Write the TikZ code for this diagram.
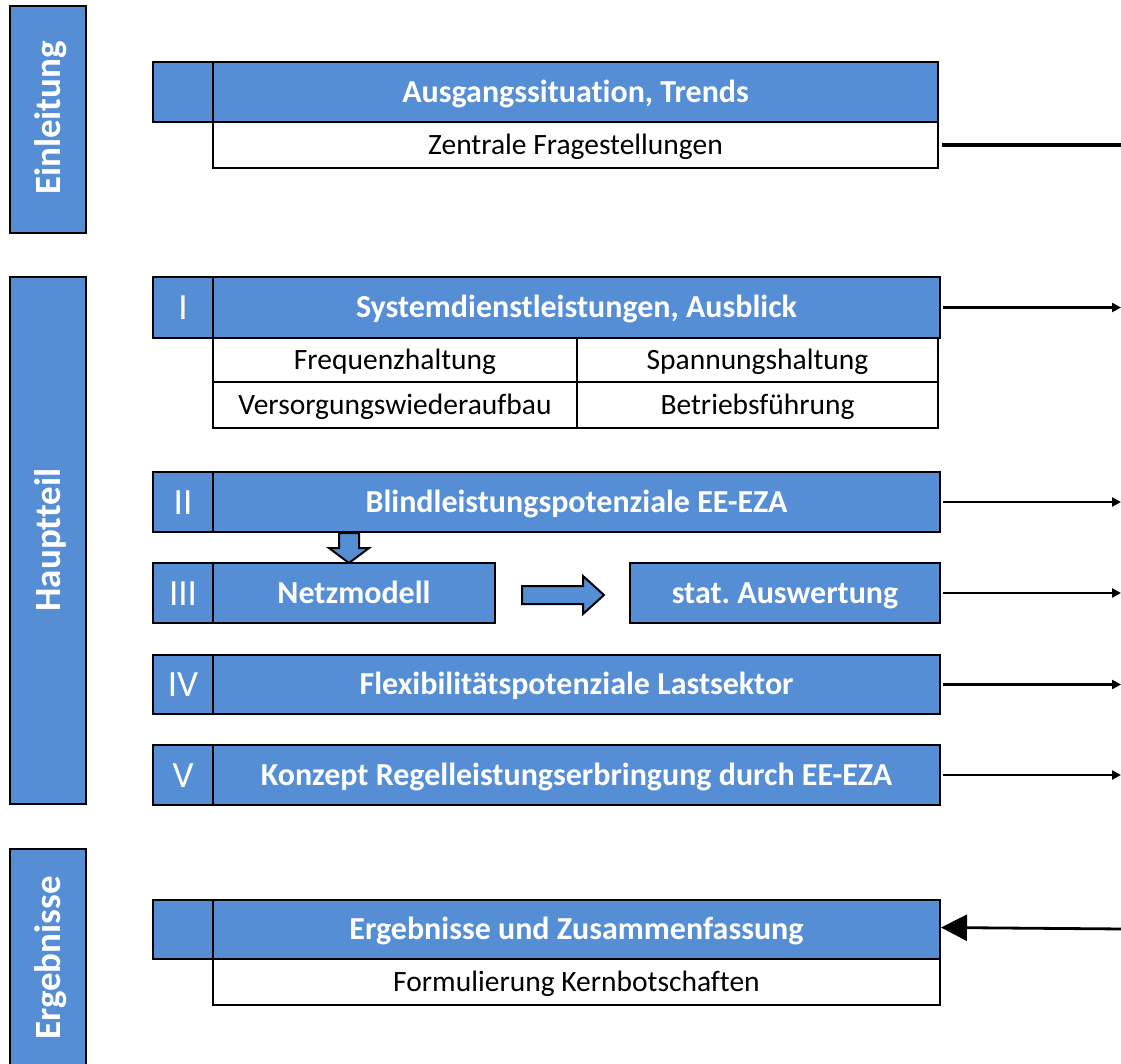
\documentclass[tikz,border=0pt]{standalone}
\usepackage{fontspec}
\setmainfont[Ligatures=NoCommon]{Carlito}
\usetikzlibrary{arrows.meta}
\definecolor{myblue}{HTML}{558ED5}
\frenchspacing
\begin{document}
\begin{tikzpicture}[x=1pt,y=-1pt,
  box/.style={draw=black, line width=2.2pt, inner sep=0pt, outer sep=0pt, anchor=north west},
  bluebox/.style={box, fill=myblue, text=white, font=\fontsize{32}{35}\selectfont\bfseries, text height=20.5pt, text depth=0pt},
  numbox/.style={box, fill=myblue, text=white, font=\fontsize{37}{40}\selectfont, minimum width=60pt, text height=24pt, text depth=0pt},
  whitebox/.style={box, fill=white, text=black, font=\fontsize{29.5}{32}\selectfont, text height=19pt, text depth=0pt},
  sidelabel/.style={rotate=90, text=white, font=\fontsize{37}{40}\selectfont\bfseries, inner sep=0pt, text height=24pt, text depth=0pt},
  sidebox/.style={draw=black, line width=2.2pt, fill=myblue},
  link/.style={line width=2.3pt, -{Triangle[length=9pt,width=9pt]}},
  blockarrow/.style={draw=black, line width=2pt, fill=myblue, line join=miter}
]
\useasboundingbox (0,0) rectangle (1121,1063);

% side boxes
\draw[sidebox] (10,6) rectangle (86,233);
\node[sidelabel] (einl) at (48,118) {Einleitung};
\draw[sidebox] (10,277) rectangle (86,804);
\node[sidelabel] (haupt) at (48,540) {Hauptteil};
\draw[sidebox] (10,849) rectangle (86,1070);
\node[sidelabel] (erg) at (48,958) {Ergebnisse};

% Einleitung
\node[numbox, minimum height=60pt] (e0) at (153,62) {};
\node[bluebox, minimum width=725pt, minimum height=60pt] (e1) at (213,62) {Ausgangssituation, Trends};
\node[whitebox, minimum width=725pt, minimum height=46pt] (e2) at (213,122) {Zentrale Fragestellungen};
\coordinate (ee) at (1125,145);
\draw[line width=3.6pt] ([xshift=4pt]e2.east) -- (e2.east -| ee);

% I
\node[numbox, minimum height=61pt] (n1) at (153,277) {I};
\node[bluebox, minimum width=727pt, minimum height=61pt] (b1) at (213,277) {Systemdienstleistungen, Ausblick};
\node[whitebox, minimum width=364pt, minimum height=44pt] (t11) at (213,338) {Frequenzhaltung};
\node[whitebox, minimum width=361pt, minimum height=44pt] (t12) at (577,338) {Spannungshaltung};
\node[whitebox, minimum width=364pt, minimum height=46pt] (t21) at (213,382) {Versorgungswiederaufbau};
\node[whitebox, minimum width=361pt, minimum height=46pt] (t22) at (577,382) {Betriebsführung};
\coordinate (a1) at (1121,308.5);
\draw[link] ([xshift=3pt]b1.east) -- (b1.east -| a1);

% II
\node[numbox, minimum height=60pt] (n2) at (153,472) {II};
\node[bluebox, minimum width=727pt, minimum height=60pt] (b2) at (213,472) {Blindleistungspotenziale EE-EZA};
\coordinate (a2) at (1121,502);
\draw[link] ([xshift=3pt]b2.east) -- (b2.east -| a2);

% down block arrow
\draw[blockarrow] (339,533) -- (359,533) -- (359,548) -- (369,548) -- (349,563) -- (329,548) -- (339,548) -- cycle;

% III
\node[numbox, minimum height=60pt] (n3) at (153,563) {III};
\node[bluebox, minimum width=282pt, minimum height=60pt] (b3) at (213,563) {Netzmodell};
\node[bluebox, minimum width=310pt, minimum height=60pt] (b3b) at (630,563) {stat. Auswertung};
\draw[blockarrow] (522,586) -- (583,586) -- (583,576) -- (604,595) -- (583,614) -- (583,604) -- (522,604) -- cycle;
\coordinate (a3) at (1121,593);
\draw[link] ([xshift=3pt]b3b.east) -- (b3b.east -| a3);

% IV
\node[numbox, minimum height=59pt] (n4) at (153,655) {IV};
\node[bluebox, minimum width=727pt, minimum height=59pt] (b4) at (213,655) {Flexibilitätspotenziale Lastsektor};
\coordinate (a4) at (1121,684.5);
\draw[link] ([xshift=3pt]b4.east) -- (b4.east -| a4);

% V
\node[numbox, minimum height=60pt] (n5) at (153,745) {V};
\node[bluebox, minimum width=727pt, minimum height=60pt] (b5) at (213,745) {Konzept Regelleistungserbringung durch EE-EZA};
\coordinate (a5) at (1121,773);
\draw[link] ([xshift=3pt]b5.east) -- (b5.east -| a5);

% Ergebnisse
\node[numbox, minimum height=59pt] (r0) at (153,900) {};
\node[bluebox, minimum width=727pt, minimum height=59pt] (r1) at (213,900) {Ergebnisse und Zusammenfassung};
\node[whitebox, minimum width=727pt, minimum height=46pt] (r2) at (213,959) {Formulierung Kernbotschaften};
\coordinate (ar) at (1125,929);
\draw[line width=2.8pt, -{Triangle[length=26pt,width=26pt]}] (ar) -- ([xshift=1pt,yshift=2pt]r1.east);

\end{tikzpicture}
\end{document}
